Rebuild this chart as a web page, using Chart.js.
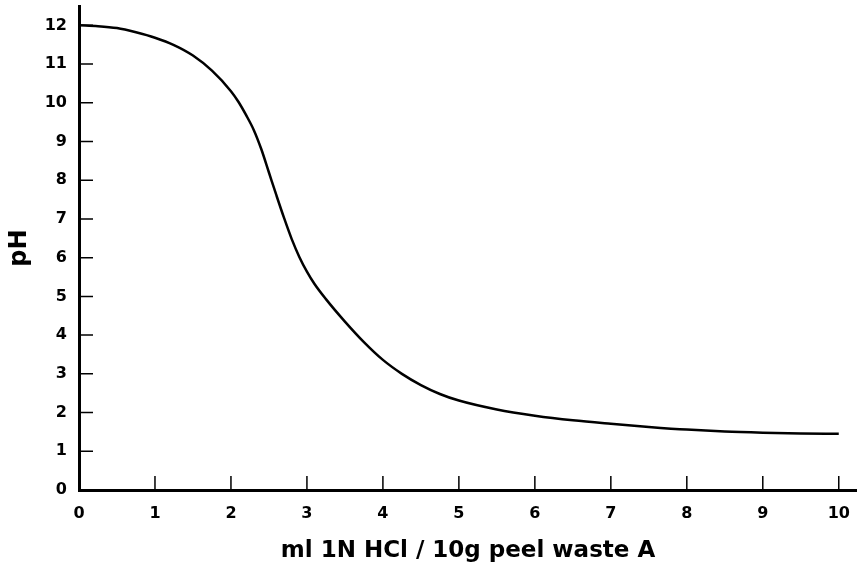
<!DOCTYPE html>
<html>
<head>
<meta charset="utf-8">
<script src="https://cdn.jsdelivr.net/npm/chart.js@4"></script>
<style>
  html, body { margin: 0; padding: 0; background: #fff; }
  #wrap { width: 857px; height: 576px; }
</style>
</head>
<body>
<div id="wrap"><canvas id="phChart"></canvas></div>
<script>
// ml of 1N HCl added per 10 g peel waste
const acidMl = [0, 0.25, 0.5, 0.75, 1, 1.25, 1.5, 1.75, 2, 2.1, 2.2, 2.3, 2.4, 2.5, 2.6, 2.7, 2.8, 2.9, 3, 3.1, 3.25, 3.5, 3.75, 4, 4.25, 4.5, 4.75, 5, 5.5, 6, 6.5, 7, 7.5, 8, 8.5, 9, 9.5, 10];
// pH
const phValues = [12.0, 11.98, 11.93, 11.82, 11.68, 11.49, 11.22, 10.83, 10.3, 10.02, 9.68, 9.3, 8.8, 8.2, 7.6, 7.02, 6.48, 6.02, 5.64, 5.32, 4.93, 4.35, 3.82, 3.36, 3.0, 2.71, 2.48, 2.31, 2.08, 1.92, 1.8, 1.71, 1.63, 1.56, 1.51, 1.48, 1.46, 1.45];
const xTickValues = [0, 1, 2, 3, 4, 5, 6, 7, 8, 9, 10];
const yTickValues = [0, 1, 2, 3, 4, 5, 6, 7, 8, 9, 10, 11, 12];

const points = acidMl.map((x, i) => ({ x: x, y: phValues[i] }));

// tick marks point inwards, so draw them ourselves
const innerTicks = {
  id: 'innerTicks',
  afterDraw(chart) {
    const ctx = chart.ctx;
    const xs = chart.scales.x, ys = chart.scales.y;
    const area = chart.chartArea;
    ctx.save();
    ctx.strokeStyle = '#000';
    ctx.lineWidth = 1.5;
    ctx.beginPath();
    xTickValues.forEach(v => {
      if (v === 0) return;
      const px = xs.getPixelForValue(v);
      ctx.moveTo(px, area.bottom);
      ctx.lineTo(px, area.bottom - 14);
    });
    yTickValues.forEach(v => {
      if (v === 0) return;
      const py = ys.getPixelForValue(v);
      ctx.moveTo(area.left, py);
      ctx.lineTo(area.left + 14, py);
    });
    ctx.stroke();
    ctx.restore();
  }
};

new Chart(document.getElementById('phChart'), {
  type: 'line',
  data: {
    datasets: [{
      data: points,
      borderColor: '#000',
      borderWidth: 2.5,
      pointRadius: 0,
      fill: false,
      cubicInterpolationMode: 'monotone'
    }]
  },
  options: {
    responsive: true,
    maintainAspectRatio: false,
    animation: false,
    layout: { padding: { top: 6, left: 0, right: 0, bottom: 0 } },
    plugins: { legend: { display: false }, tooltip: { enabled: false } },
    scales: {
      x: {
        type: 'linear',
        min: 0,
        max: 10.24,
        grid: { drawOnChartArea: false, drawTicks: false },
        border: { color: '#000', width: 3 },
        ticks: {
          stepSize: 1,
          padding: 14,
          color: '#000',
          maxRotation: 0,
          font: { family: 'DejaVu Sans', size: 16, weight: 'bold' }
        },
        afterBuildTicks: s => { s.ticks = xTickValues.map(v => ({ value: v })); },
        afterFit: s => { s.height = 86; s.paddingLeft = 0; s.paddingRight = 0; },
        title: {
          display: true,
          text: 'ml 1N HCl / 10g peel waste A',
          color: '#000',
          font: { family: 'DejaVu Sans', size: 23, weight: 'bold' },
          padding: { top: 0, bottom: 11 }
        }
      },
      y: {
        min: 0,
        max: 12.5,
        grid: { drawOnChartArea: false, drawTicks: false },
        border: { color: '#000', width: 3 },
        ticks: {
          stepSize: 1,
          padding: 12,
          color: '#000',
          font: { family: 'DejaVu Sans', size: 16, weight: 'bold' }
        },
        afterBuildTicks: s => { s.ticks = yTickValues.map(v => ({ value: v })); },
        afterFit: s => { s.width = 79; s.paddingTop = 0; s.paddingBottom = 0; },
        title: {
          display: true,
          text: 'pH',
          color: '#000',
          font: { family: 'DejaVu Sans', size: 24, weight: 'bold' },
          padding: { top: 5, bottom: 0 }
        }
      }
    }
  },
  plugins: [innerTicks]
});
</script>
</body>
</html>
